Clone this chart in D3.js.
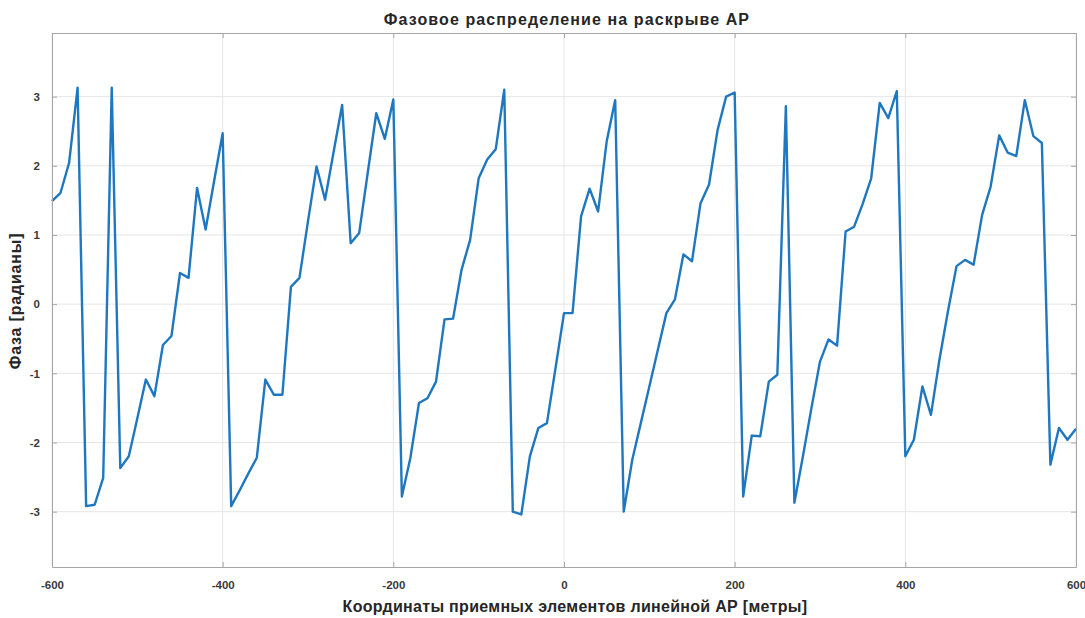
<!DOCTYPE html>
<html>
<head>
<meta charset="utf-8">
<script src="https://cdn.jsdelivr.net/npm/d3@7"></script>
<style>
  body { margin: 0; background: #fff; }
  text { font-family: "Liberation Sans", Arial, sans-serif; }
</style>
</head>
<body>
<div id="wrapper"></div>
<script>
// element coordinates, metres
const coords = d3.range(-600, 601, 10);

// phase values, radians
const phase = [
  1.49, 1.61, 2.04, 3.13, -2.92, -2.90, -2.51, 3.13, -2.37, -2.20,
  -1.65, -1.09, -1.33, -0.59, -0.46, 0.45, 0.38, 1.68, 1.08, 1.78,
  2.47, -2.92, -2.69, -2.45, -2.22, -1.09, -1.31, -1.31, 0.25, 0.38,
  1.20, 1.99, 1.51, 2.20, 2.88, 0.88, 1.03, 1.90, 2.76, 2.39,
  2.96, -2.78, -2.22, -1.43, -1.36, -1.12, -0.22, -0.21, 0.50, 0.93,
  1.82, 2.09, 2.24, 3.10, -3.00, -3.04, -2.20, -1.79, -1.72, -0.93,
  -0.13, -0.13, 1.27, 1.67, 1.34, 2.35, 2.95, -3.00, -2.25, -1.72,
  -1.19, -0.66, -0.13, 0.07, 0.72, 0.62, 1.46, 1.73, 2.52, 3.00,
  3.06, -2.78, -1.90, -1.91, -1.12, -1.02, 2.86, -2.87, -2.20, -1.50,
  -0.83, -0.51, -0.60, 1.05, 1.12, 1.45, 1.82, 2.91, 2.69, 3.08,
  -2.20, -1.96, -1.19, -1.60, -0.80, -0.10, 0.55, 0.64, 0.57, 1.29,
  1.70, 2.44, 2.19, 2.14, 2.95, 2.43, 2.33, -2.32, -1.79, -1.96,
  -1.80
];

const xTicks = [-600, -400, -200, 0, 200, 400, 600];
const yTicks = [-3, -2, -1, 0, 1, 2, 3];

const titleText = "Фазовое распределение на раскрыве АР";
const xLabelText = "Координаты приемных элементов линейной АР [метры]";
const yLabelText = "Фаза [радианы]";

const dataset = coords.map((x, i) => ({ x, y: phase[i] }));

const xAccessor = dp => dp.x;
const yAccessor = dp => dp.y;

let dimensions = {
  width: 1085,
  height: 618,
  margin: { top: 33, right: 9, bottom: 51, left: 52 },
};
dimensions = {
  ...dimensions,
  boundedWidth: dimensions.width - dimensions.margin.left - dimensions.margin.right,
  boundedHeight: dimensions.height - dimensions.margin.top - dimensions.margin.bottom,
};

const wrapper = d3.select("#wrapper")
  .append("svg")
    .attr("width", dimensions.width)
    .attr("height", dimensions.height);

const bounds = wrapper.append("g")
  .attr("transform", `translate(${dimensions.margin.left},${dimensions.margin.top})`);

const xScale = d3.scaleLinear()
  .domain([-600, 600])
  .range([0, dimensions.boundedWidth]);

const yScale = d3.scaleLinear()
  .domain([-3.8, 3.92])
  .range([dimensions.boundedHeight, 0]);

// grid
bounds.append("g")
  .selectAll("line")
  .data(xTicks)
  .join("line")
    .attr("x1", d => xScale(d)).attr("x2", d => xScale(d))
    .attr("y1", 0).attr("y2", dimensions.boundedHeight)
    .attr("stroke", "#e6e6e6");

bounds.append("g")
  .selectAll("line")
  .data(yTicks)
  .join("line")
    .attr("x1", 0).attr("x2", dimensions.boundedWidth)
    .attr("y1", d => yScale(d)).attr("y2", d => yScale(d))
    .attr("stroke", "#e6e6e6");

// the phase line
const lineGenerator = d3.line()
  .x(dp => xScale(xAccessor(dp)))
  .y(dp => yScale(yAccessor(dp)));

bounds.append("path")
  .attr("d", lineGenerator(dataset))
  .attr("fill", "none")
  .attr("stroke", "#1f77c0")
  .attr("stroke-width", 2.4)
  .attr("stroke-linejoin", "round");

// matlab uses a plain hyphen for negatives
const fmt = d => String(d);

// axes, ticks inside like matlab
const styleAxis = g => {
  g.select(".domain").attr("stroke", "#a6a6a6");
  g.selectAll(".tick line").attr("stroke", "#a6a6a6");
  g.selectAll(".tick text")
    .attr("fill", "#3a3a3a")
    .style("font-size", "11.5px")
    .style("font-weight", "bold")
    .style("font-family", "'Liberation Sans', Arial, sans-serif");
};

const xAxisGenerator = d3.axisBottom(xScale)
  .tickValues(xTicks)
  .tickFormat(fmt)
  .tickSize(-5)
  .tickSizeOuter(0)
  .tickPadding(14);

bounds.append("g")
  .attr("transform", `translate(0,${dimensions.boundedHeight})`)
  .call(xAxisGenerator)
  .call(styleAxis);

bounds.append("g")
  .call(d3.axisTop(xScale).tickValues(xTicks).tickSize(-5).tickSizeOuter(0).tickFormat(""))
  .call(styleAxis);

const yAxisGenerator = d3.axisLeft(yScale)
  .tickValues(yTicks)
  .tickFormat(fmt)
  .tickSize(-5)
  .tickSizeOuter(0)
  .tickPadding(12);

bounds.append("g")
  .call(yAxisGenerator)
  .call(styleAxis);

bounds.append("g")
  .attr("transform", `translate(${dimensions.boundedWidth},0)`)
  .call(d3.axisRight(yScale).tickValues(yTicks).tickSize(-5).tickSizeOuter(0).tickFormat(""))
  .call(styleAxis);

// labels
wrapper.append("text")
  .attr("x", 567)
  .attr("y", 25)
  .attr("text-anchor", "middle")
  .attr("fill", "#262626")
  .style("font-size", "16px")
  .style("letter-spacing", "1.1px")
  .style("font-weight", "bold")
  .text(titleText);

wrapper.append("text")
  .attr("x", 575)
  .attr("y", 612)
  .attr("text-anchor", "middle")
  .attr("fill", "#262626")
  .style("font-size", "16px")
  .style("letter-spacing", "0.3px")
  .style("font-weight", "bold")
  .text(xLabelText);

wrapper.append("text")
  .attr("transform", "translate(21,301) rotate(-90)")
  .attr("text-anchor", "middle")
  .attr("fill", "#262626")
  .style("font-size", "16px")
  .style("letter-spacing", "0.8px")
  .style("font-weight", "bold")
  .text(yLabelText);
</script>
</body>
</html>
